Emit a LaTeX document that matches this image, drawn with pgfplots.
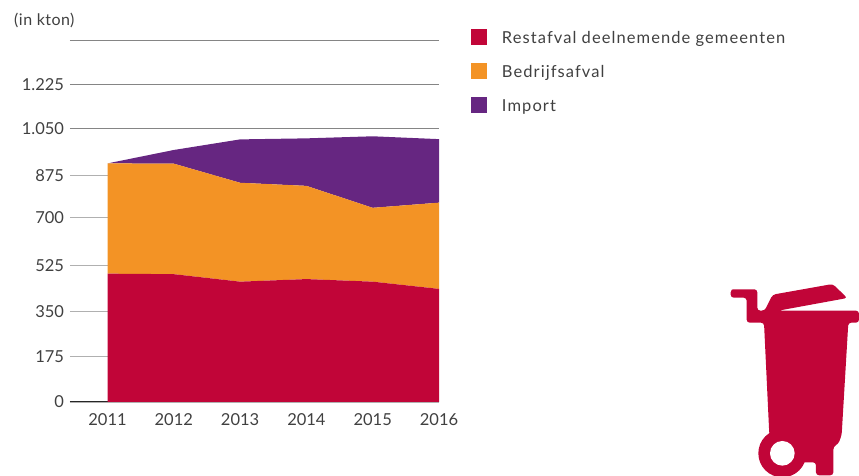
\documentclass[border=0pt]{standalone}
\usepackage{fontspec}
\setmainfont{Lato}
\newfontfamily\lgfont[LetterSpace=6.5]{Lato}
\newfontfamily\unitfont[LetterSpace=3]{Lato}
\usepackage{pgfplots}
\usepackage{pgfplotstable}
\pgfplotsset{compat=1.18}
\definecolor{cred}{HTML}{C10538}
\definecolor{corange}{HTML}{F39325}
\definecolor{cpurple}{HTML}{662681}
\definecolor{ctext}{HTML}{404040}
\definecolor{cgrid}{HTML}{B0B0B0}
\definecolor{cgridtop}{HTML}{858585}
\pgfplotstableread{
year red orange purple
2011 497 427 0
2012 495 428 53
2013 466 383 168
2014 476 361 184
2015 466 286 277
2016 438 334 246
}\wastedata
\begin{document}
\begin{tikzpicture}[x=1pt,y=1pt]
\path[use as bounding box] (0,0) rectangle (859,476);
\begin{axis}[
  at={(70pt,74pt)}, anchor=south west,
  scale only axis, width=369pt, height=361.5pt,
  xmin=2010.434, xmax=2016, ymin=0, ymax=1400,
  stack plots=y,
  axis x line=bottom, axis y line=left,
  x axis line style={-, color=black!85, line width=1pt},
  y axis line style={draw=none},
  ymajorgrids, grid style={cgrid, line width=1.1pt},
  xtick={2011,2012,2013,2014,2015,2016},
  xticklabels={2011,2012,2013,2014,2015,2016},
  ytick={0,175.5,350,528,713,876},
  yticklabels={0,175,350,525,700,875},
  extra y ticks={1060,1230,1399},
  extra y tick labels={{1.050},{1.225},{}},
  extra y tick style={grid=major, grid style={cgridtop, line width=0.8pt}},
  major tick length=0pt,
  tick label style={font=\fontsize{16.5}{18}\selectfont, text=ctext},
  xticklabel style={yshift=-8pt},
  yticklabel style={xshift=-2.5pt},
  legend cell align=left,
  legend style={
    at={(1.0867,1.0318)}, anchor=north west, draw=none, fill=none,
    inner sep=0pt, outer sep=0pt, font=\lgfont\fontsize{16.5}{18}\selectfont, text=ctext,
    /tikz/row sep=15.5pt, /tikz/column sep=0pt,
    nodes={inner sep=0pt, outer sep=0pt, text height=12pt, text depth=4pt},
  },
  legend image code/.code={\fill[#1] (0pt,-5.5pt) rectangle (16pt,10.5pt);},
]
\addplot[fill=cred, draw=none] table[x=year,y=red]{\wastedata} \closedcycle;
\addplot[fill=corange, draw=none] table[x=year,y=orange]{\wastedata} \closedcycle;
\addplot[fill=cpurple, draw=none] table[x=year,y=purple]{\wastedata} \closedcycle;
\legend{\hspace{15pt}Restafval deelnemende gemeenten,\hspace{15pt}Bedrijfsafval,\hspace{15pt}Import}
\end{axis}
\node[anchor=base west, inner sep=0pt, text=ctext, font=\unitfont\fontsize{16}{18}\selectfont] at (14,450) {(in kton)};
\begin{scope}
\clip (0,0) rectangle (859,476);
\begin{scope}[shift={(700,206)}, x=0.3333pt, y=-0.3333pt]
\fill[cred, rounded corners=3pt]
  (103,58) -- (172,58) -- (172,122) -- (194,122) -- (218,74) -- (398,42) -- (442,84) -- (235,122)
  -- (477,122) -- (477,158) -- (445,158) -- (425,495) -- (415,522) -- (400,530) -- (400,616) -- (348,616) -- (348,577)
  -- (300,577) -- (208,495) -- (192,158) -- (140,158) -- (140,83) -- (92,83) -- (92,58) -- cycle;
\fill[cred] (247,550) circle (72);
\fill[white] (247,550) circle (37);
\end{scope}
\end{scope}
\end{tikzpicture}
\end{document}
